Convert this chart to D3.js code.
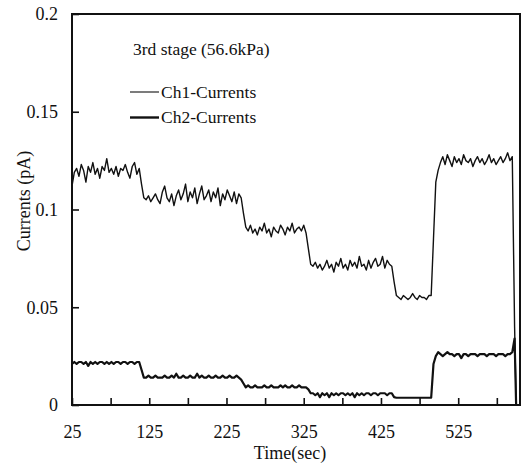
<!DOCTYPE html>
<html>
<head>
<meta charset="utf-8">
<script src="https://cdn.jsdelivr.net/npm/d3@7/dist/d3.min.js"></script>
<style>
  html, body { margin: 0; padding: 0; background: #fff; }
  svg { display: block; }
  svg text { font-family: "Liberation Serif", "Times New Roman", serif !important; fill: #111; }
</style>
</head>
<body>
<div id="chart"></div>
<script>
// ---- data ----
const times = [
  25, 28, 31, 34, 37, 40, 43, 46, 49, 52, 55, 58, 61, 64, 67, 70, 73, 76, 79, 82,
  85, 88, 91, 94, 97, 100, 103, 106, 109, 112, 115, 118, 121, 124, 127, 130, 133, 136, 139, 142,
  145, 148, 151, 154, 157, 160, 163, 166, 169, 172, 175, 178, 181, 184, 187, 190, 193, 196, 199, 202,
  205, 208, 211, 214, 217, 220, 223, 226, 229, 232, 235, 238, 241, 244, 247, 250, 253, 256, 259, 262,
  265, 268, 271, 274, 277, 280, 283, 286, 289, 292, 295, 298, 301, 304, 307, 310, 313, 316, 319, 322,
  325, 328, 331, 334, 337, 340, 343, 346, 349, 352, 355, 358, 361, 364, 367, 370, 373, 376, 379, 382,
  385, 388, 391, 394, 397, 400, 403, 406, 409, 412, 415, 418, 421, 424, 427, 430, 433, 436, 439, 442,
  445, 448, 451, 454, 457, 460, 463, 466, 469, 472, 475, 478, 481, 484, 487, 490, 493, 496, 499, 502,
  505, 508, 511, 514, 517, 520, 523, 526, 529, 532, 535, 538, 541, 544, 547, 550, 553, 556, 559, 562,
  565, 568, 571, 574, 577, 580, 583, 586, 589, 592, 595, 598, 600
];

const ch1Currents = [
  // ~0.12 level
  0.112, 0.119, 0.121, 0.117, 0.123, 0.120, 0.114, 0.122, 0.119, 0.124,
  0.118, 0.121, 0.116, 0.122, 0.120, 0.126, 0.119, 0.121, 0.118, 0.122,
  0.117, 0.121, 0.120, 0.123, 0.119, 0.116, 0.122, 0.124, 0.118, 0.121,
  0.113,
  // ~0.107 level
  0.106, 0.105, 0.107, 0.104, 0.106, 0.108, 0.105, 0.103, 0.109, 0.112,
  0.106, 0.104, 0.108, 0.102, 0.107, 0.110, 0.105, 0.108, 0.113, 0.104,
  0.109, 0.106, 0.111, 0.103, 0.108, 0.112, 0.105, 0.107, 0.110, 0.104,
  0.109, 0.106, 0.111, 0.102, 0.108, 0.105, 0.110, 0.107, 0.104, 0.109,
  0.103, 0.108, 0.106,
  0.098,
  // ~0.090 level
  0.091, 0.089, 0.092, 0.088, 0.090, 0.087, 0.091, 0.089, 0.093, 0.088,
  0.090, 0.086, 0.091, 0.089, 0.088, 0.092, 0.090, 0.087, 0.091, 0.089,
  0.093, 0.088, 0.090, 0.091, 0.089, 0.092, 0.088,
  0.080, 0.072,
  // ~0.071 level
  0.071, 0.073, 0.070, 0.072, 0.069, 0.071, 0.074, 0.070, 0.072, 0.068,
  0.073, 0.071, 0.075, 0.070, 0.072, 0.069, 0.074, 0.071, 0.073, 0.070,
  0.076, 0.071, 0.072, 0.069, 0.074, 0.070, 0.073, 0.075, 0.071, 0.072,
  0.076, 0.070, 0.074, 0.072, 0.071,
  0.063, 0.056,
  // ~0.055 level
  0.055, 0.054, 0.056, 0.055, 0.054, 0.055, 0.057, 0.055, 0.054, 0.056,
  0.055, 0.055, 0.054, 0.056, 0.056,
  0.085, 0.114, 0.120,
  // ~0.125 level
  0.124, 0.127, 0.123, 0.128, 0.125, 0.122, 0.127, 0.124, 0.126, 0.123,
  0.128, 0.125, 0.124, 0.126, 0.122, 0.125, 0.127, 0.124, 0.126, 0.123,
  0.125, 0.128, 0.124, 0.126, 0.123, 0.125, 0.127, 0.124, 0.126, 0.129,
  0.125, 0.127,
  0.040, 0.001
];

const ch2Currents = [
  // ~0.0215 level
  0.021, 0.022, 0.021, 0.022, 0.022, 0.021, 0.022, 0.020, 0.022, 0.021,
  0.022, 0.021, 0.022, 0.022, 0.021, 0.022, 0.021, 0.022, 0.021, 0.022,
  0.022, 0.021, 0.022, 0.022, 0.021, 0.022, 0.022, 0.021, 0.022, 0.022,
  0.018,
  // ~0.0142 level
  0.014, 0.014, 0.015, 0.014, 0.014, 0.015, 0.014, 0.014, 0.014, 0.015,
  0.014, 0.014, 0.015, 0.014, 0.016, 0.014, 0.014, 0.015, 0.014, 0.014,
  0.015, 0.014, 0.014, 0.016, 0.014, 0.015, 0.014, 0.014, 0.015, 0.014,
  0.014, 0.015, 0.014, 0.014, 0.015, 0.014, 0.014, 0.015, 0.014, 0.014,
  0.015, 0.014, 0.013,
  0.011,
  // ~0.0094 level
  0.009, 0.010, 0.009, 0.009, 0.010, 0.009, 0.009, 0.009, 0.010, 0.009,
  0.009, 0.010, 0.009, 0.009, 0.009, 0.010, 0.009, 0.010, 0.009, 0.009,
  0.010, 0.009, 0.009, 0.010, 0.009, 0.009, 0.009,
  0.008, 0.006,
  // ~0.0055 level
  0.006, 0.005, 0.006, 0.004, 0.006, 0.005, 0.006, 0.004, 0.006, 0.005,
  0.006, 0.005, 0.006, 0.006, 0.005, 0.006, 0.005, 0.006, 0.004, 0.006,
  0.005, 0.006, 0.005, 0.006, 0.006, 0.005, 0.006, 0.006, 0.005, 0.006,
  0.006, 0.006, 0.005, 0.006, 0.006,
  0.004, 0.0037,
  // ~0.0037 level
  0.0037, 0.0037, 0.0037, 0.0037, 0.0037, 0.0037, 0.0037, 0.0037, 0.0037, 0.0037,
  0.0037, 0.0037, 0.0037, 0.0037, 0.0037,
  0.021, 0.025, 0.027,
  // ~0.0256 level
  0.026, 0.025, 0.026, 0.027, 0.026, 0.026, 0.025, 0.026, 0.026, 0.024,
  0.026, 0.026, 0.025, 0.026, 0.026, 0.026, 0.025, 0.026, 0.026, 0.026,
  0.025, 0.026, 0.026, 0.026, 0.025, 0.026, 0.026, 0.026, 0.025, 0.026,
  0.026, 0.027,
  0.034, 0.000
];

const xTickValues = [25, 125, 225, 325, 425, 525];
const xMinorTickValues = [75, 175, 275, 375, 475, 575];
const yTickValues = [0, 0.05, 0.1, 0.15, 0.2];
const yTickLabels = ["0", "0.05", "0.1", "0.15", "0.2"];
const seriesNames = ["Ch1-Currents", "Ch2-Currents"];
const chartTitle = "3rd stage (56.6kPa)";
const xAxisTitle = "Time(sec)";
const yAxisTitle = "Currents (pA)";

// ---- drawing ----
const W = 525, H = 466;
const SERIF = '"Liberation Serif", "Times New Roman", serif';
const margin = { left: 72, right: 5, top: 14, bottom: 61 };
const svg = d3.select("#chart").append("svg").attr("width", W).attr("height", H);

const x = d3.scaleLinear().domain([25, 605]).range([margin.left, W - margin.right]);
const y = d3.scaleLinear().domain([0, 0.2]).range([H - margin.bottom, margin.top]);

const lineGen = d3.line().x((d, i) => x(times[i])).y(d => y(d));

const plot = svg.append("g");
plot.append("path").datum(ch1Currents)
  .attr("d", lineGen).attr("fill", "none").attr("stroke", "#111")
  .attr("stroke-width", 1.4).attr("stroke-linejoin", "round");
plot.append("path").datum(ch2Currents)
  .attr("d", lineGen).attr("fill", "none").attr("stroke", "#111")
  .attr("stroke-width", 2.2).attr("stroke-linejoin", "round");

// frame
svg.append("rect")
  .attr("x", x.range()[0]).attr("y", y.range()[1])
  .attr("width", x.range()[1] - x.range()[0]).attr("height", y.range()[0] - y.range()[1])
  .attr("fill", "none").attr("stroke", "#111").attr("stroke-width", 2);

// x axis (ticks inside)
const xAxis = d3.axisBottom(x).tickValues(xTickValues).tickSize(-7).tickPadding(20)
  .tickFormat(d3.format("d"));
const gx = svg.append("g").attr("transform", `translate(0,${y(0)})`).call(xAxis)
  .attr("font-family", SERIF);
gx.select(".domain").remove();
gx.selectAll("line").attr("stroke", "#111").attr("stroke-width", 1.6);
gx.selectAll("text").attr("font-size", 18).style("font-family", SERIF);

const xMinor = d3.axisBottom(x).tickValues(xMinorTickValues).tickSize(-7).tickFormat("");
const gxm = svg.append("g").attr("transform", `translate(0,${y(0)})`).call(xMinor);
gxm.select(".domain").remove();
gxm.selectAll("line").attr("stroke", "#111").attr("stroke-width", 1.6);

// y axis (ticks inside)
const yAxis = d3.axisLeft(y).tickValues(yTickValues).tickSize(-7).tickPadding(14)
  .tickFormat((d, i) => yTickLabels[i]);
const gy = svg.append("g").attr("transform", `translate(${x(25)},0)`).call(yAxis)
  .attr("font-family", SERIF);
gy.select(".domain").remove();
gy.selectAll("line").attr("stroke", "#111").attr("stroke-width", 1.6);
gy.selectAll("text").attr("font-size", 18).style("font-family", SERIF);

// axis titles
svg.append("text").attr("x", 290).attr("y", 459).attr("text-anchor", "middle")
  .attr("font-size", 18).text(xAxisTitle);
svg.append("text").attr("transform", `translate(30,201) rotate(-90)`)
  .attr("text-anchor", "middle").attr("font-size", 18).text(yAxisTitle);

// legend
svg.append("text").attr("x", 133).attr("y", 55).attr("font-size", 17.5).text(chartTitle);
const legendRows = [{ y: 92, w: 1.1 }, { y: 117.5, w: 2.4 }];
legendRows.forEach((r, i) => {
  svg.append("line").attr("x1", 130).attr("x2", 159).attr("y1", r.y).attr("y2", r.y)
    .attr("stroke", "#111").attr("stroke-width", r.w);
  svg.append("text").attr("x", 161).attr("y", r.y + 5.5).attr("font-size", 17.5).text(seriesNames[i]);
});

if (ch1Currents.length !== times.length || ch2Currents.length !== times.length) {
  svg.append("text").attr("x", 200).attr("y", 250).style("fill", "red")
    .text(`len ${times.length} ${ch1Currents.length} ${ch2Currents.length}`);
}
</script>
</body>
</html>
